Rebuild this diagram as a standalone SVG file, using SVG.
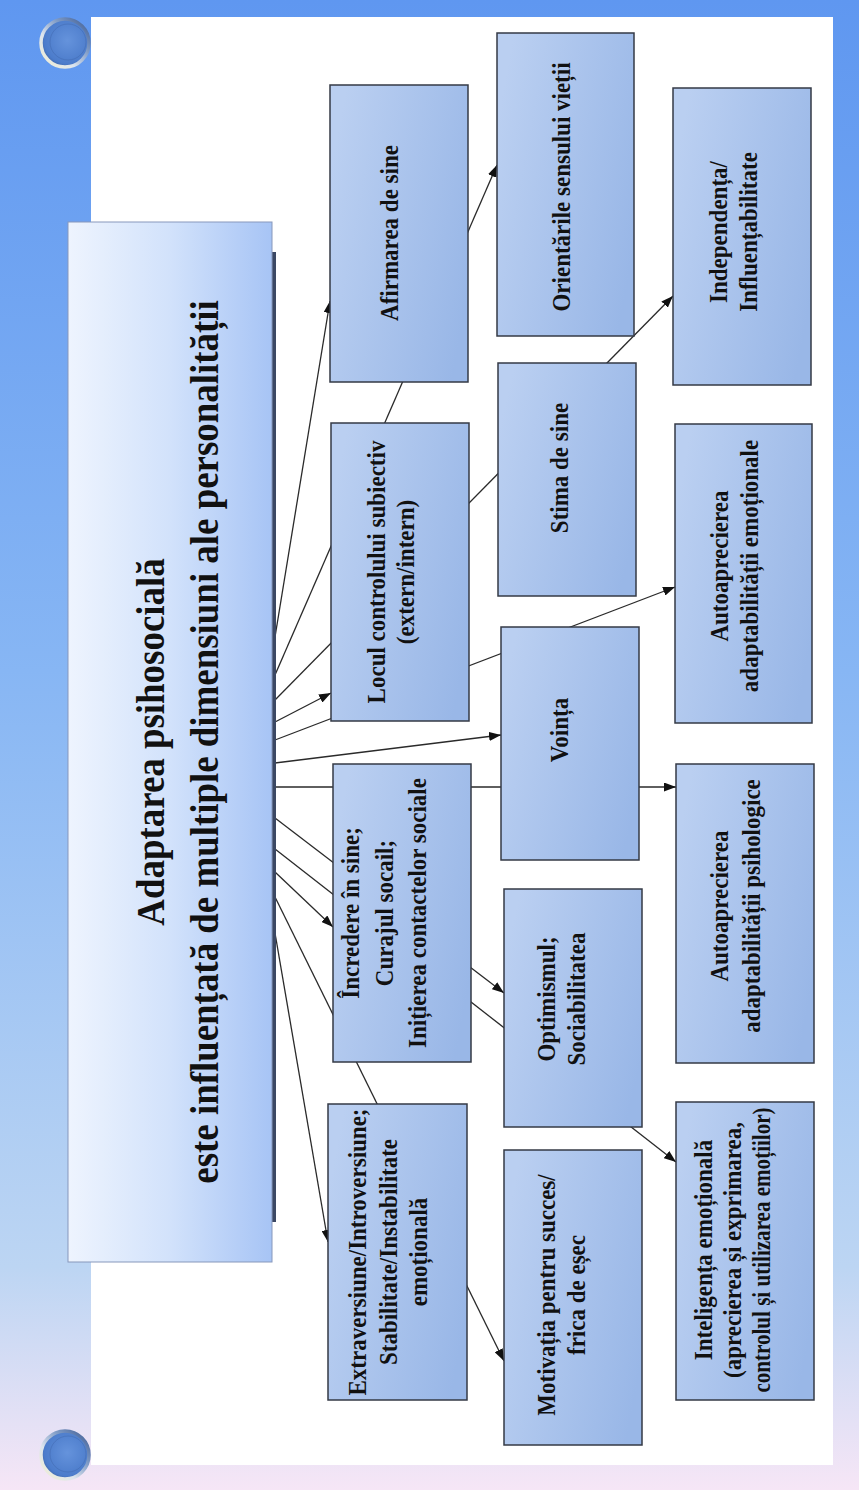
<svg xmlns="http://www.w3.org/2000/svg" width="859" height="1490" viewBox="0 0 859 1490">
  <defs>
    <linearGradient id="bg" x1="0" y1="0" x2="0" y2="1">
      <stop offset="0" stop-color="#5f97f0"/>
      <stop offset="0.45" stop-color="#87b6f4"/>
      <stop offset="0.85" stop-color="#bcd5f3"/>
      <stop offset="1" stop-color="#f6e6f6"/>
    </linearGradient>
    <linearGradient id="mainFill" x1="0" y1="0" x2="1" y2="0">
      <stop offset="0" stop-color="#eef4fe"/>
      <stop offset="0.5" stop-color="#d2e2fb"/>
      <stop offset="1" stop-color="#a7c4f5"/>
    </linearGradient>
    <linearGradient id="boxFill" x1="0" y1="0.3" x2="1" y2="0.7">
      <stop offset="0" stop-color="#bacff1"/>
      <stop offset="1" stop-color="#99b7e7"/>
    </linearGradient>
    <radialGradient id="pinFill" cx="0.55" cy="0.45" r="0.6">
      <stop offset="0" stop-color="#6593dc"/>
      <stop offset="0.8" stop-color="#4c7ccb"/>
      <stop offset="1" stop-color="#3a5f9f"/>
    </radialGradient>
    <linearGradient id="pinRim" x1="0" y1="1" x2="1" y2="0">
      <stop offset="0" stop-color="#f3efd2"/>
      <stop offset="0.35" stop-color="#dde5ee"/>
      <stop offset="0.65" stop-color="#7f9bc6"/>
      <stop offset="1" stop-color="#3c5a92"/>
    </linearGradient>
    <marker id="arrow" viewBox="0 0 12 9" refX="12" refY="4.5" markerWidth="12" markerHeight="9" markerUnits="userSpaceOnUse" orient="auto">
      <path d="M0,0 L12,4.5 L0,9 z" fill="#111"/>
    </marker>
    <style>
      .box { fill: url(#boxFill); stroke: #353a45; stroke-width: 1.5; }
      .main { fill: url(#mainFill); stroke: #8798bb; stroke-width: 1; }
      .lbl { font-family: "Liberation Serif", "Times New Roman", serif; font-weight: bold; font-size: 25px; fill: #111; text-anchor: middle; }
      .title { font-family: "Liberation Serif", "Times New Roman", serif; font-weight: bold; font-size: 41px; fill: #111; text-anchor: middle; }
      .conn line { stroke: #2a2a2a; stroke-width: 1.3; fill: none; }
      .conn line.a { marker-end: url(#arrow); }
    </style>
  </defs>

  <!-- page background and sheet -->
  <rect x="0" y="0" width="859" height="1490" fill="url(#bg)"/>
  <rect x="91" y="17" width="742" height="1448" fill="#ffffff"/>

  <!-- pins -->
  <g id="pin-top">
    <circle cx="65" cy="43" r="24" fill="url(#pinFill)" stroke="url(#pinRim)" stroke-width="3.5"/>
    <circle cx="68" cy="42" r="18" fill="none" stroke="#3f68ad" stroke-width="1" opacity="0.5"/>
  </g>
  <g id="pin-bottom">
    <circle cx="65" cy="1455" r="24" fill="url(#pinFill)" stroke="url(#pinRim)" stroke-width="3.5"/>
    <circle cx="68" cy="1454" r="18" fill="none" stroke="#3f68ad" stroke-width="1" opacity="0.5"/>
  </g>

  <!-- connectors (drawn beneath the boxes) -->
  <g id="connectors" class="conn">
    <line class="a" x1="275" y1="637" x2="330" y2="301"/>
    <line class="a" x1="275" y1="675" x2="497" y2="165"/>
    <line class="a" x1="275" y1="700" x2="673" y2="296"/>
    <line class="a" x1="275" y1="722" x2="331" y2="693"/>
    <line class="a" x1="275" y1="740" x2="675" y2="587"/>
    <line class="a" x1="275" y1="763" x2="501" y2="735"/>
    <line class="a" x1="275" y1="787" x2="676" y2="787"/>
    <line class="a" x1="275" y1="818" x2="504" y2="993"/>
    <line class="a" x1="275" y1="849" x2="676" y2="1162"/>
    <line class="a" x1="275" y1="872" x2="333" y2="927"/>
    <line class="a" x1="275" y1="897" x2="504" y2="1361"/>
    <line class="a" x1="275" y1="933" x2="328" y2="1242"/>
  </g>

  <!-- central node -->
  <g id="main">
    <rect x="272" y="252" width="4" height="970" fill="#3b4864"/>
    <rect class="main" x="68" y="222" width="204" height="1040"/>
    <g transform="translate(191,742) rotate(-90) scale(0.9,1)">
      <text class="title" x="0" y="-27">Adaptarea psihosocială</text>
      <text class="title" x="0" y="27">este influențată de multiple dimensiuni ale personalității</text>
    </g>
  </g>

  <!-- first column -->
  <g id="afirmarea">
    <rect class="box" x="330" y="85" width="138" height="297"/>
    <g transform="translate(399,233) rotate(-90) scale(0.92,1)">
      <text class="lbl" x="0" y="-1">Afirmarea de sine</text>
    </g>
  </g>
  <g id="locul">
    <rect class="box" x="331" y="423" width="138" height="298"/>
    <g transform="translate(400,572) rotate(-90) scale(0.92,1)">
      <text class="lbl" x="0" y="-15">Locul controlului subiectiv</text>
      <text class="lbl" x="0" y="14">(extern/intern)</text>
    </g>
  </g>
  <g id="incredere">
    <rect class="box" x="333" y="764" width="138" height="298"/>
    <g transform="translate(401,913) rotate(-90) scale(0.92,1)">
      <text class="lbl" x="0" y="-42">Încredere în sine;</text>
      <text class="lbl" x="0" y="-8">Curajul socail;</text>
      <text class="lbl" x="0" y="25">Inițierea contactelor sociale</text>
    </g>
  </g>
  <g id="extraversiune">
    <rect class="box" x="328" y="1104" width="139" height="296"/>
    <g transform="translate(397,1252) rotate(-90) scale(0.92,1)">
      <text class="lbl" x="0" y="-31">Extraversiune/Introversiune;</text>
      <text class="lbl" x="0" y="0">Stabilitate/Instabilitate</text>
      <text class="lbl" x="0" y="30">emoțională</text>
    </g>
  </g>

  <!-- second column -->
  <g id="orientarile">
    <rect class="box" x="497" y="33" width="137" height="303"/>
    <g transform="translate(565,187) rotate(-90) scale(0.92,1)">
      <text class="lbl" x="0" y="5">Orientările sensului vieții</text>
    </g>
  </g>
  <g id="stima">
    <rect class="box" x="498" y="363" width="138" height="233"/>
    <g transform="translate(567,468) rotate(-90) scale(0.92,1)">
      <text class="lbl" x="0" y="1">Stima de sine</text>
    </g>
  </g>
  <g id="vointa">
    <rect class="box" x="501" y="627" width="138" height="233"/>
    <g transform="translate(570,730) rotate(-90) scale(0.92,1)">
      <text class="lbl" x="0" y="-2">Voința</text>
    </g>
  </g>
  <g id="optimismul">
    <rect class="box" x="504" y="889" width="138" height="238"/>
    <g transform="translate(573,999) rotate(-90) scale(0.92,1)">
      <text class="lbl" x="0" y="-18">Optimismul;</text>
      <text class="lbl" x="0" y="12">Sociabilitatea</text>
    </g>
  </g>
  <g id="motivatia">
    <rect class="box" x="504" y="1150" width="138" height="295"/>
    <g transform="translate(573,1295) rotate(-90) scale(0.92,1)">
      <text class="lbl" x="0" y="-18">Motivația pentru succes/</text>
      <text class="lbl" x="0" y="12">frica de eșec</text>
    </g>
  </g>

  <!-- third column -->
  <g id="independenta">
    <rect class="box" x="673" y="88" width="138" height="297"/>
    <g transform="translate(742,232) rotate(-90) scale(0.92,1)">
      <text class="lbl" x="0" y="-15">Independența/</text>
      <text class="lbl" x="0" y="15">Influențabilitate</text>
    </g>
  </g>
  <g id="autoapreciere-emotionala">
    <rect class="box" x="675" y="424" width="137" height="299"/>
    <g transform="translate(743,566) rotate(-90) scale(0.92,1)">
      <text class="lbl" x="0" y="-15">Autoaprecierea</text>
      <text class="lbl" x="0" y="15">adaptabilității emoționale</text>
    </g>
  </g>
  <g id="autoapreciere-psihologica">
    <rect class="box" x="676" y="764" width="138" height="299"/>
    <g transform="translate(745,906) rotate(-90) scale(0.92,1)">
      <text class="lbl" x="0" y="-17">Autoaprecierea</text>
      <text class="lbl" x="0" y="15">adaptabilității psihologice</text>
    </g>
  </g>
  <g id="inteligenta">
    <rect class="box" x="676" y="1102" width="138" height="298"/>
    <g transform="translate(745,1250) rotate(-90) scale(0.92,1)">
      <text class="lbl" x="0" y="-33">Inteligența emoțională</text>
      <text class="lbl" x="0" y="-4">(aprecierea și exprimarea,</text>
      <text class="lbl" x="0" y="25" textLength="310" lengthAdjust="spacingAndGlyphs">controlul și utilizarea emoțiilor)</text>
    </g>
  </g>
</svg>
